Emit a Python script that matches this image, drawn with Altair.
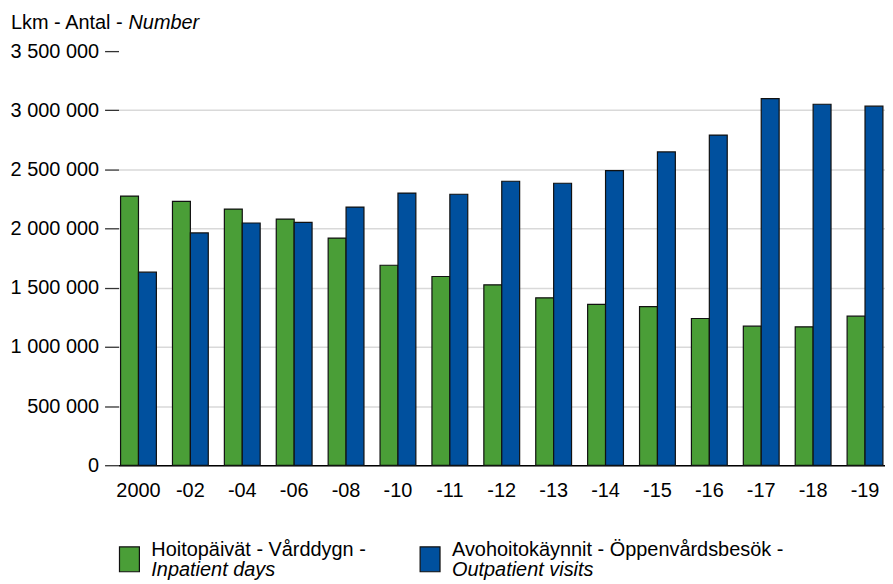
import altair as alt
import pandas as pd

years = ["2000", "-02", "-04", "-06", "-08", "-10", "-11", "-12", "-13", "-14",
         "-15", "-16", "-17", "-18", "-19"]
inpatient = [2275000, 2230000, 2165000, 2080000, 1920000, 1690000, 1595000, 1525000,
             1415000, 1360000, 1340000, 1240000, 1175000, 1170000, 1260000]
outpatient = [1632000, 1963000, 2047000, 2053000, 2182000, 2300000, 2290000, 2400000,
              2383000, 2490000, 2648000, 2790000, 3099000, 3051000, 3035000]
series_keys = ["in", "out"]
legend_line1 = ["Hoitopäivät - Vårddygn -", "Avohoitokäynnit - Öppenvårdsbesök -"]
legend_line2 = ["Inpatient days", "Outpatient visits"]
title_plain = "Lkm - Antal -"
title_italic = "Number"
y_ticks = [0, 500000, 1000000, 1500000, 2000000, 2500000, 3000000, 3500000]

GREEN = "#4a9e37"
BLUE = "#00509e"
FONT = "Liberation Sans"

rows = []
for y, a, b in zip(years, inpatient, outpatient):
    rows.append({"year": y, "series": "in", "value": a})
    rows.append({"year": y, "series": "out", "value": b})
df = pd.DataFrame(rows)

legend_df = pd.DataFrame({"series": series_keys, "l1": legend_line1, "l2": legend_line2})

bars = alt.Chart(df).mark_bar(stroke="#111111", strokeWidth=1.2).encode(
    x=alt.X("year:N", sort=years,
            scale=alt.Scale(paddingInner=0.31, paddingOuter=0.04),
            axis=alt.Axis(title=None, labelAngle=0, ticks=False, labelPadding=15,
                          domainColor="#000000", domainWidth=1.5, labelFontSize=20,
                          labelColor="#000000", labelFont=FONT)),
    xOffset=alt.XOffset("series:N", sort=series_keys,
                        scale=alt.Scale(paddingInner=0, paddingOuter=0)),
    y=alt.Y("value:Q", scale=alt.Scale(domain=[0, 3500000], nice=False),
            axis=alt.Axis(title=None, values=y_ticks,
                          labelExpr="replace(format(datum.value, ','), /,/g, ' ')",
                          tickSize=14, labelPadding=6, domain=False,
                          gridColor={"condition": {"test": "datum.value >= 3500000",
                                                   "value": "transparent"},
                                     "value": "#d9d9d9"},
                          gridWidth=1.5, tickColor="#333333", tickWidth=1.3,
                          labelFontSize=20, labelColor="#000000", labelFont=FONT)),
    color=alt.Color("series:N", scale=alt.Scale(domain=series_keys, range=[GREEN, BLUE]),
                    legend=None),
)

title_df = pd.DataFrame({"a": [title_plain], "b": [title_italic]})
t1 = alt.Chart(title_df).mark_text(align="left", baseline="alphabetic", fontSize=20,
                                   font=FONT, color="#000000").encode(
    x=alt.value(-108), y=alt.value(-22), text="a:N")
t2 = alt.Chart(title_df).mark_text(align="left", baseline="alphabetic", fontSize=20,
                                   font=FONT, fontStyle="italic", color="#000000").encode(
    x=alt.value(10), y=alt.value(-22), text="b:N")

layers = [bars, t1, t2]
item_x = {"in": 1, "out": 303}
colors = {"in": GREEN, "out": BLUE}
for key in series_keys:
    base = alt.Chart(legend_df).transform_filter(alt.datum.series == key)
    x0 = item_x[key]
    sq = base.mark_rect(fill=colors[key], stroke="#111111", strokeWidth=1.2).encode(
        x=alt.value(x0), x2=alt.value(x0 + 20), y=alt.value(498), y2=alt.value(523))
    l1 = base.mark_text(align="left", baseline="alphabetic", fontSize=20, font=FONT,
                        color="#000000").encode(
        x=alt.value(x0 + 32), y=alt.value(507), text="l1:N")
    l2 = base.mark_text(align="left", baseline="alphabetic", fontSize=20, font=FONT,
                        fontStyle="italic", color="#000000").encode(
        x=alt.value(x0 + 32), y=alt.value(527), text="l2:N")
    layers += [sq, l1, l2]

chart = alt.layer(*layers).properties(
    width=770, height=416,
    autosize=alt.AutoSizeParams(type="none"),
    padding={"left": 111, "top": 42, "right": 0, "bottom": 116},
).configure(font=FONT, view=alt.ViewConfig(stroke=None))

chart.save("out.html", embed_options={"renderer": "svg", "actions": False})
